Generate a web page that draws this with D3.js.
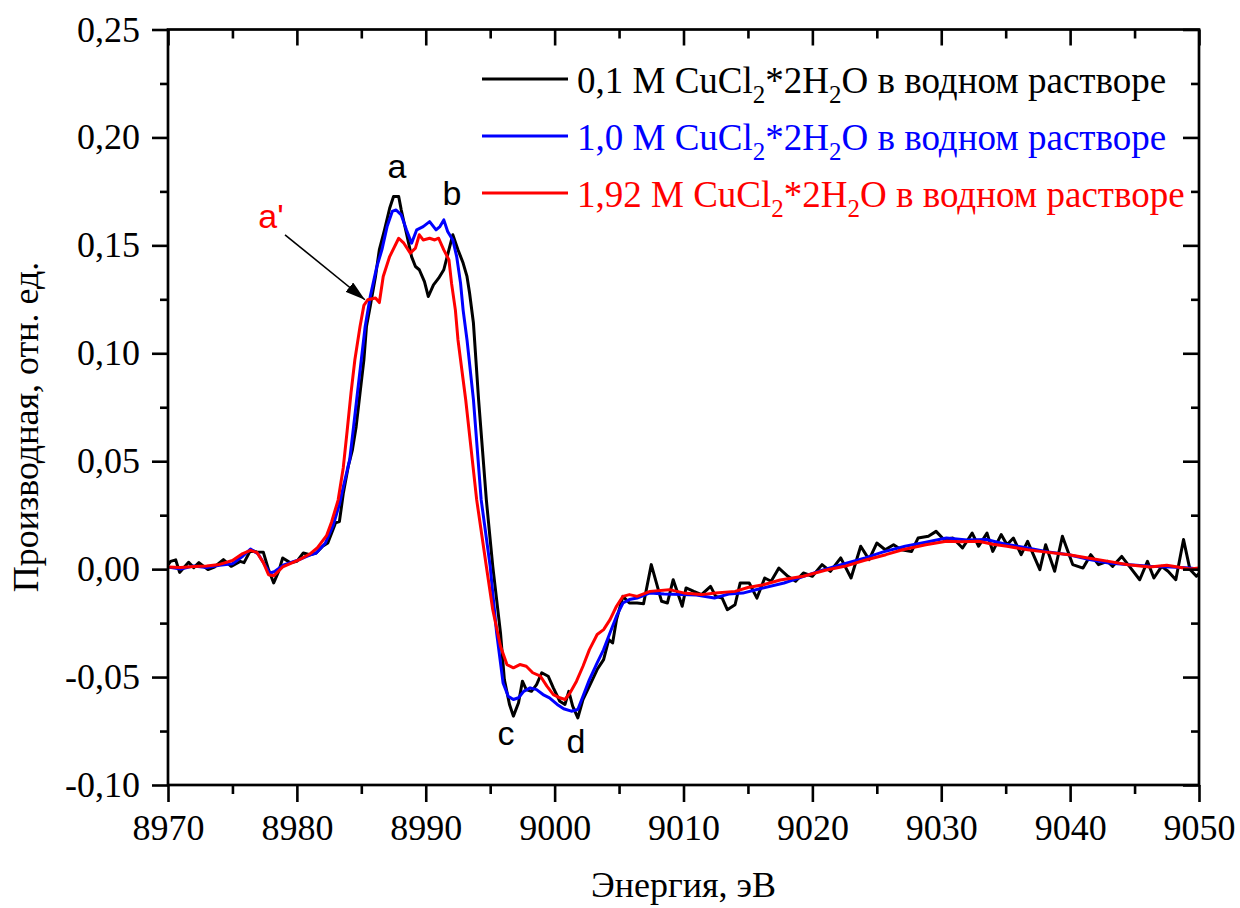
<!DOCTYPE html>
<html>
<head>
<meta charset="utf-8">
<script src="https://cdnjs.cloudflare.com/ajax/libs/d3/7.8.5/d3.min.js"></script>
<style>
  body { margin: 0; background: #fff; }
  svg, svg text { font-family: "Liberation Serif", "Times New Roman", serif; }
  .tick line { stroke: #000; stroke-width: 2.6; }
</style>
</head>
<body>
<script>
// [energy eV, derivative]
const black01 = [
  [8970.0, 0.002], [8970.2, 0.0036], [8970.6, 0.0043], [8970.9, -0.0015], [8971.6, 0.0032], [8972.0, 0.0007],
  [8972.4, 0.003], [8973.1, -0.0002], [8973.6, 0.001], [8974.3, 0.0044], [8974.9, 0.0013], [8975.6, 0.0036],
  [8975.9, 0.003], [8976.4, 0.0087], [8976.9, 0.008], [8977.4, 0.0078], [8977.8, -0.0002], [8978.2, -0.0064],
  [8978.6, -0.0008], [8978.9, 0.0052], [8979.5, 0.003], [8980.0, 0.0036], [8980.5, 0.0075], [8981.0, 0.0067],
  [8981.5, 0.0075], [8982.0, 0.0106], [8982.4, 0.0121], [8983.0, 0.0214], [8983.3, 0.022], [8983.6, 0.035],
  [8984.0, 0.048], [8984.3, 0.055], [8984.6, 0.066], [8984.9, 0.0816], [8985.2, 0.097], [8985.4, 0.1124],
  [8985.7, 0.122], [8986.1, 0.1356], [8986.4, 0.148], [8986.8, 0.1572], [8987.2, 0.1672], [8987.5, 0.1726],
  [8987.9, 0.1726], [8988.1, 0.1664], [8988.5, 0.1556], [8988.9, 0.1448], [8989.2, 0.1402], [8989.5, 0.1387],
  [8989.9, 0.1332], [8990.2, 0.1263], [8990.6, 0.1317], [8991.0, 0.1348], [8991.4, 0.1387], [8991.8, 0.148],
  [8992.1, 0.1549], [8992.5, 0.148], [8992.9, 0.1418], [8993.2, 0.1356], [8993.4, 0.1279], [8993.7, 0.114],
  [8994.1, 0.0785], [8994.7, 0.0322], [8995.2, 0.0013], [8995.8, -0.0295], [8996.1, -0.0512], [8996.5, -0.0627],
  [8996.8, -0.0681], [8997.2, -0.0619], [8997.5, -0.0519], [8997.8, -0.0558], [8998.2, -0.0566], [8998.6, -0.0535],
  [8999.0, -0.048], [8999.5, -0.0496], [8999.9, -0.055], [9000.4, -0.0612], [9000.8, -0.0627], [9001.1, -0.0566],
  [9001.4, -0.0635], [9001.8, -0.0689], [9002.2, -0.0604], [9002.7, -0.0542], [9003.3, -0.0465], [9003.8, -0.0419],
  [9004.2, -0.0326], [9004.5, -0.0342], [9004.8, -0.0234], [9005.3, -0.0126], [9005.8, -0.0157], [9006.4, -0.0157],
  [9006.9, -0.016], [9007.5, 0.0021], [9008.3, -0.0149], [9008.75, -0.0157], [9009.2, -0.0049], [9009.9, -0.0172],
  [9010.2, -0.0087], [9010.8, -0.0103], [9011.4, -0.0118], [9012.1, -0.008], [9012.5, -0.0126], [9013.0, -0.0134],
  [9013.4, -0.0188], [9014.0, -0.0165], [9014.4, -0.0064], [9015.1, -0.0064], [9015.7, -0.0134], [9016.3, -0.0041],
  [9016.8, -0.0056], [9017.4, 0.0005], [9018.1, -0.0033], [9018.7, -0.0056], [9019.3, -0.0018], [9020.0, -0.0033],
  [9020.75, 0.0021], [9021.4, -0.001], [9022.2, 0.0052], [9023.0, -0.0041], [9023.75, 0.0106], [9024.4, 0.0044],
  [9025.0, 0.0121], [9025.65, 0.009], [9026.3, 0.0113], [9026.9, 0.009], [9027.7, 0.0082], [9028.2, 0.0144],
  [9029.0, 0.0152], [9029.6, 0.0175], [9030.2, 0.0137], [9030.9, 0.0144], [9031.65, 0.0098], [9032.4, 0.0167],
  [9032.9, 0.0106], [9033.55, 0.0167], [9034.0, 0.0082], [9034.65, 0.016], [9035.1, 0.0113], [9035.6, 0.0144],
  [9036.2, 0.0067], [9036.7, 0.0129], [9037.65, -0.0002], [9038.1, 0.0113], [9038.8, -0.001], [9039.4, 0.0152],
  [9040.2, 0.0021], [9041.0, 0.0005], [9041.6, 0.0067], [9042.2, 0.0021], [9042.9, 0.0036], [9043.3, 0.0013],
  [9044.0, 0.0059], [9044.6, 0.0013], [9045.4, -0.0049], [9046.0, 0.0036], [9046.5, -0.0041], [9047.1, 0.0013],
  [9047.6, -0.001], [9048.2, -0.0049], [9048.8, 0.0137], [9049.3, -0.0002], [9049.8, -0.0033], [9050.0, -0.002]
];

const blue10 = [
  [8970.0, 0.001], [8971.0, 0.0], [8972.0, 0.0015], [8973.0, 0.0008], [8974.0, 0.0018], [8975.0, 0.0025],
  [8975.8, 0.006], [8976.4, 0.0093], [8977.0, 0.007], [8977.5, 0.002], [8977.9, -0.0019], [8978.3, -0.001],
  [8979.0, 0.002], [8980.0, 0.004], [8981.0, 0.0065], [8981.5, 0.0075], [8982.2, 0.012], [8982.8, 0.02],
  [8983.3, 0.03], [8983.6, 0.038], [8984.1, 0.0507], [8984.4, 0.066], [8984.7, 0.0816], [8985.0, 0.097],
  [8985.3, 0.1124], [8985.7, 0.1265], [8986.2, 0.140], [8986.6, 0.148], [8987.0, 0.1587], [8987.4, 0.1657],
  [8987.7, 0.1664], [8988.1, 0.1641], [8988.5, 0.1572], [8988.9, 0.151], [8989.3, 0.1572], [8989.8, 0.1587],
  [8990.3, 0.161], [8990.8, 0.1572], [8991.1, 0.1587], [8991.4, 0.1618], [8991.7, 0.1564], [8992.1, 0.1525],
  [8992.4, 0.1448], [8992.7, 0.1325], [8992.9, 0.120], [8993.2, 0.1063], [8993.7, 0.0785], [8994.3, 0.0322],
  [8995.0, 0.0013], [8995.5, -0.0295], [8996.0, -0.0527], [8996.4, -0.0589], [8996.8, -0.0604], [8997.2, -0.0596],
  [8997.6, -0.0566], [8998.1, -0.055], [8998.6, -0.0558], [8999.1, -0.0581], [8999.6, -0.0596], [9000.2, -0.0627],
  [9000.7, -0.0647], [9001.3, -0.0658], [9001.8, -0.065], [9002.2, -0.0589], [9002.7, -0.0512], [9003.3, -0.0434],
  [9003.8, -0.0373], [9004.3, -0.0295], [9004.8, -0.0218], [9005.3, -0.0157], [9005.8, -0.0141], [9006.4, -0.0134],
  [9007.4, -0.011], [9008.5, -0.0115], [9009.9, -0.0118], [9011.0, -0.012], [9012.4, -0.0134], [9013.5, -0.0115],
  [9014.6, -0.0111], [9016.0, -0.009], [9017.8, -0.0064], [9019.5, -0.003], [9020.9, -0.0002], [9022.5, 0.0025],
  [9024.1, 0.0052], [9025.5, 0.008], [9027.2, 0.0106], [9028.8, 0.0125], [9030.4, 0.0144], [9032.0, 0.0135],
  [9033.5, 0.0137], [9035.0, 0.0115], [9036.7, 0.0098], [9038.3, 0.008], [9039.9, 0.0067], [9041.5, 0.0045],
  [9043.0, 0.0028], [9044.6, 0.002], [9046.2, 0.0013], [9047.8, 0.001], [9049.3, 0.0005], [9050.0, 0.0]
];

const red192 = [
  [8970.0, 0.001], [8971.0, 0.0008], [8972.0, 0.0012], [8973.0, 0.0015], [8974.0, 0.0022], [8975.0, 0.004],
  [8975.8, 0.0072], [8976.4, 0.0087], [8976.9, 0.0077], [8977.4, 0.003], [8977.8, -0.0026], [8978.2, -0.0031],
  [8978.9, 0.001], [8980.2, 0.0044], [8981.0, 0.007], [8981.6, 0.010], [8982.3, 0.0155], [8982.7, 0.022],
  [8983.2, 0.032], [8983.6, 0.047], [8983.9, 0.064], [8984.2, 0.0816], [8984.5, 0.097], [8984.9, 0.1124],
  [8985.2, 0.1222], [8985.5, 0.1248], [8986.1, 0.1256], [8986.4, 0.1235], [8986.7, 0.1356], [8987.2, 0.1448],
  [8987.9, 0.1533], [8988.3, 0.151], [8988.8, 0.1464], [8989.2, 0.1487], [8989.5, 0.1549], [8989.8, 0.1525],
  [8990.3, 0.1533], [8990.7, 0.1525], [8991.0, 0.1533], [8991.4, 0.1479], [8991.8, 0.1433], [8992.0, 0.1325],
  [8992.3, 0.120], [8992.5, 0.1063], [8993.1, 0.0785], [8993.95, 0.0322], [8994.7, 0.0013], [8995.2, -0.0188],
  [8995.8, -0.0357], [8996.3, -0.0442], [8996.8, -0.0457], [8997.3, -0.0442], [8997.8, -0.045], [8998.3, -0.048],
  [8998.9, -0.0496], [8999.4, -0.0542], [8999.9, -0.0581], [9000.4, -0.0596], [9000.8, -0.0604], [9001.2, -0.0573],
  [9001.7, -0.0519], [9002.2, -0.045], [9002.7, -0.0373], [9003.3, -0.0303], [9003.8, -0.028], [9004.3, -0.0234],
  [9004.8, -0.0172], [9005.3, -0.0126], [9005.8, -0.0118], [9006.4, -0.0126], [9007.4, -0.0103], [9008.9, -0.0095],
  [9010.0, -0.011], [9011.4, -0.0118], [9012.5, -0.011], [9014.0, -0.0103], [9015.0, -0.0085], [9016.2, -0.0072],
  [9017.5, -0.005], [9019.3, -0.0033], [9021.0, -0.0005], [9022.5, 0.0013], [9024.0, 0.004], [9025.7, 0.0067],
  [9027.0, 0.009], [9028.8, 0.0113], [9030.4, 0.0129], [9031.5, 0.0127], [9032.9, 0.0129], [9034.0, 0.0115],
  [9035.1, 0.0106], [9036.7, 0.009], [9038.0, 0.008], [9039.9, 0.0067], [9041.5, 0.005], [9043.0, 0.0036],
  [9044.5, 0.002], [9046.2, 0.001], [9047.5, 0.0018], [9049.3, 0.0001], [9050.0, 0.0005]
];

const seriesColors = ["#000000", "#0000ff", "#ff0000"];
const legendConc = ["0,1", "1,0", "1,92"];
const xTicks = [8970, 8980, 8990, 9000, 9010, 9020, 9030, 9040, 9050];
const xMinor = [8975, 8985, 8995, 9005, 9015, 9025, 9035, 9045];
const yTicks = [-0.10, -0.05, 0.00, 0.05, 0.10, 0.15, 0.20, 0.25];
const yMinor = [-0.075, -0.025, 0.025, 0.075, 0.125, 0.175, 0.225];
// peak labels: [text, energy, value, colour]
const peakLabels = [["a", 8987.77, 0.1813, "#000"], ["b", 8992.03, 0.1688, "#000"],
  ["a'", 8977.99, 0.1581, "#ff0000"], ["c", 8996.22, -0.0813, "#000"], ["d", 9001.65, -0.085, "#000"]];

// plot frame in page pixels
const margin = { top: 29.5, right: 41, bottom: 123, left: 168 };
const W = 1240, H = 908;
const width = W - margin.left - margin.right;
const height = H - margin.top - margin.bottom;

const serif = '"Liberation Serif", "Times New Roman", serif';
const sans = '"Liberation Sans", Arial, sans-serif';

const svg = d3.select("body").append("svg")
  .attr("width", W).attr("height", H);
svg.append("rect").attr("width", W).attr("height", H).attr("fill", "#fff");

const g = svg.append("g")
  .attr("transform", "translate(" + margin.left + "," + margin.top + ")");

const x = d3.scaleLinear().domain([8970, 9050]).range([0, width]);
const y = d3.scaleLinear().domain([-0.10, 0.25]).range([height, 0]);

const fmt = v => v.toFixed(2).replace(".", ",");

// curves, red on top
const line = d3.line().x(d => x(d[0])).y(d => y(d[1]));
[black01, blue10, red192].forEach((s, i) => {
  g.append("path")
    .datum(s)
    .attr("d", line)
    .attr("fill", "none")
    .attr("stroke", seriesColors[i])
    .attr("stroke-width", 3)
    .attr("stroke-linejoin", "round");
});

// axes: left/bottom ticks outside, top/right inside
const xAxisG = g.append("g").attr("transform", "translate(0," + height + ")")
  .call(d3.axisBottom(x).tickValues(xTicks).tickSize(17).tickPadding(12).tickFormat(d3.format("d")));
g.append("g").attr("transform", "translate(0," + height + ")")
  .call(d3.axisBottom(x).tickValues(xMinor).tickSize(9).tickFormat(""));
const yAxisG = g.append("g")
  .call(d3.axisLeft(y).tickValues(yTicks).tickSize(16).tickPadding(12).tickFormat(fmt));
g.append("g")
  .call(d3.axisLeft(y).tickValues(yMinor).tickSize(8).tickFormat(""));
g.append("g")
  .call(d3.axisTop(x).tickValues(xTicks).tickSize(-16).tickFormat(""));
g.append("g")
  .call(d3.axisTop(x).tickValues(xMinor).tickSize(-9).tickFormat(""));
g.append("g").attr("transform", "translate(" + width + ",0)")
  .call(d3.axisRight(y).tickValues(yTicks).tickSize(-16).tickFormat(""));
g.append("g").attr("transform", "translate(" + width + ",0)")
  .call(d3.axisRight(y).tickValues(yMinor).tickSize(-8).tickFormat(""));
g.selectAll(".domain").remove();

[xAxisG, yAxisG].forEach(a => {
  a.attr("font-family", null).attr("font-size", null);
  a.selectAll("text")
    .style("font-family", serif)
    .style("font-size", "36px")
    .attr("fill", "#000");
});

g.append("rect")
  .attr("width", width).attr("height", height)
  .attr("fill", "none").attr("stroke", "#000").attr("stroke-width", 2.7);

// axis titles
svg.append("text")
  .attr("transform", "translate(38,427) rotate(-90)")
  .attr("text-anchor", "middle")
  .style("font-family", serif)
  .style("font-size", "36px")
  .text("Производная, отн. ед.");

svg.append("text")
  .attr("x", margin.left + width / 2)
  .attr("y", 897)
  .attr("text-anchor", "middle")
  .style("font-family", serif)
  .style("font-size", "36px")
  .text("Энергия, эВ");

// legend
const legend = svg.append("g");
legendConc.forEach((c, i) => {
  const ly = 79 + i * 57;
  legend.append("line")
    .attr("x1", 482).attr("x2", 568).attr("y1", ly).attr("y2", ly)
    .attr("stroke", seriesColors[i]).attr("stroke-width", 3);
  const t = legend.append("text")
    .attr("x", 577).attr("y", ly + 14)
    .attr("fill", seriesColors[i])
    .style("font-family", serif)
    .style("font-size", "37px");
  t.append("tspan").text(c + " M CuCl");
  t.append("tspan").attr("dy", 10).style("font-size", "25px").text("2");
  t.append("tspan").attr("dy", -10).text("*2H");
  t.append("tspan").attr("dy", 10).style("font-size", "25px").text("2");
  t.append("tspan").attr("dy", -10).text("O в водном растворе");
});

// peak letters
g.selectAll(".note")
  .data(peakLabels)
  .enter().append("text")
  .attr("class", "note")
  .attr("x", d => x(d[1]))
  .attr("y", d => y(d[2]))
  .attr("text-anchor", "middle")
  .attr("fill", d => d[3])
  .style("font-family", sans)
  .style("font-size", "34px")
  .text(d => d[0]);

// arrow pointing at the a' shoulder
svg.append("defs").append("marker")
  .attr("id", "head")
  .attr("markerUnits", "userSpaceOnUse")
  .attr("viewBox", "0 0 20 12")
  .attr("markerWidth", 20).attr("markerHeight", 12)
  .attr("refX", 20).attr("refY", 6)
  .attr("orient", "auto")
  .append("path").attr("d", "M0,0 L20,6 L0,12 Z").attr("fill", "#000");

g.append("line")
  .attr("x1", x(8979.08)).attr("y1", y(0.1549))
  .attr("x2", x(8985.28)).attr("y2", y(0.1248))
  .attr("stroke", "#000").attr("stroke-width", 1.6)
  .attr("marker-end", "url(#head)");
</script>
</body>
</html>
